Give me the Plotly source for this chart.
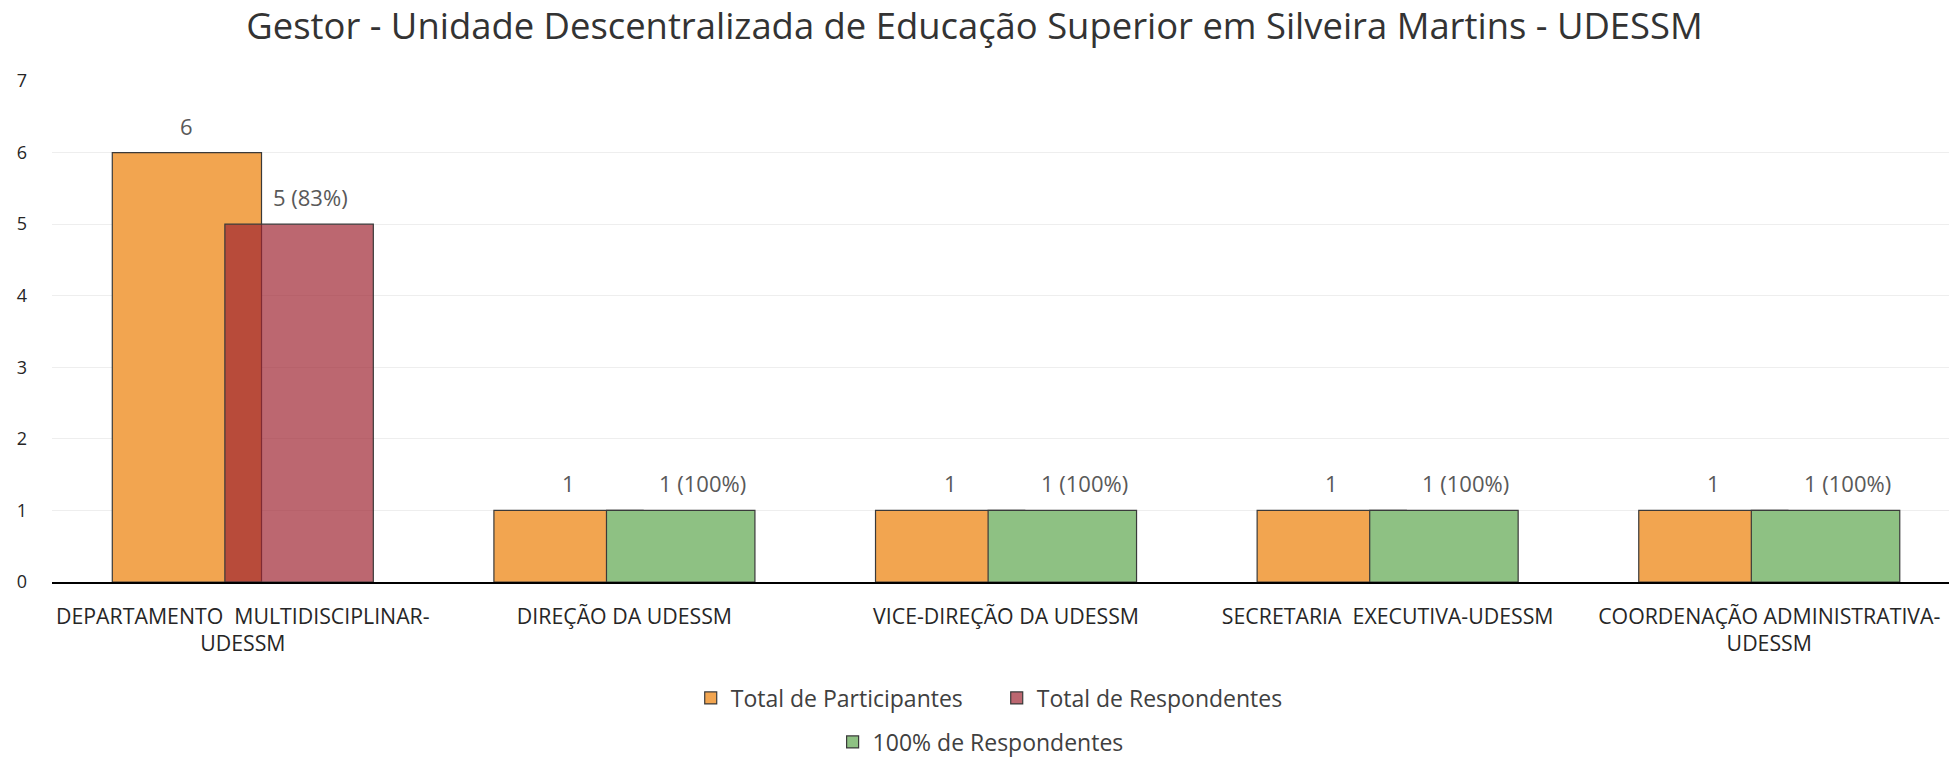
import plotly.graph_objects as go

categories = [
    "DEPARTAMENTO  MULTIDISCIPLINAR-<br>UDESSM",
    "DIREÇÃO DA UDESSM",
    "VICE-DIREÇÃO DA UDESSM",
    "SECRETARIA  EXECUTIVA-UDESSM",
    "COORDENAÇÃO ADMINISTRATIVA-<br>UDESSM",
]
participantes = [6, 1, 1, 1, 1]
respondentes = [5, None, None, None, None]
resp_100 = [None, 1, 1, 1, 1]
labels_part = ["6", "1", "1", "1", "1"]
labels_resp = ["5 (83%)", None, None, None, None]
labels_100 = [None, "1 (100%)", "1 (100%)", "1 (100%)", "1 (100%)"]

FONT = "Open Sans"
outline = dict(color="#3a3a3a", width=1.2)

W, H = 1949, 758

fig = go.Figure()
fig.add_trace(go.Bar(
    x=categories, y=participantes, name="Total de Participantes",
    marker=dict(color="#F2A550", line=outline),
    offset=-0.342, width=0.391, legend="legend",
))
fig.add_trace(go.Bar(
    x=categories, y=respondentes, name="Total de Respondentes",
    marker=dict(color="rgba(158,35,48,0.69)", line=outline),
    offset=-0.047, width=0.389, legend="legend",
))
fig.add_trace(go.Bar(
    x=categories, y=resp_100, name="100% de Respondentes",
    marker=dict(color="#8EC183", line=outline),
    offset=-0.047, width=0.389, legend="legend2",
))

label_font = dict(family=FONT, size=22, color="#595959")
annotations = []
for c, v, t in zip(categories, participantes, labels_part):
    annotations.append(dict(x=c, y=v, text=t, showarrow=False, xshift=-56, yshift=27, font=label_font))
for c, v, t in zip(categories, respondentes, labels_resp):
    if t is not None:
        annotations.append(dict(x=c, y=v, text=t, showarrow=False, xshift=68, yshift=27, font=label_font))
for c, v, t in zip(categories, resp_100, labels_100):
    if t is not None:
        annotations.append(dict(x=c, y=v, text=t, showarrow=False, xshift=78, yshift=27, font=label_font))

legend_font = dict(family=FONT, size=23, color="#404040")
fig.update_layout(
    width=W, height=H,
    barmode="overlay",
    plot_bgcolor="white", paper_bgcolor="white",
    margin=dict(l=52, r=0, t=81, b=176, autoexpand=False),
    title=dict(text="Gestor - Unidade Descentralizada de Educação Superior em Silveira Martins - UDESSM",
               x=0.5, xanchor="center", xref="container", y=1 - 26 / H, yanchor="middle",
               yref="container",
               font=dict(family=FONT, size=36.4, color="#333333")),
    annotations=annotations,
    legend=dict(orientation="h", x=0.3367, xanchor="left", y=-0.2315, yanchor="middle",
                entrywidth=261, entrywidthmode="pixels",
                font=legend_font, itemclick=False),
    legend2=dict(orientation="h", x=0.4115, xanchor="left", y=-0.3194, yanchor="middle",
                 font=legend_font, itemclick=False),
    showlegend=True,
)
fig.update_xaxes(range=[-0.5, 4.471], showline=True, linecolor="black", linewidth=2,
                 showgrid=False, ticks="", ticklabelstandoff=14, automargin=False,
                 tickfont=dict(family=FONT, size=21.3, color="#262626"))
fig.update_yaxes(range=[0, 7], dtick=1, showgrid=True, gridcolor="#EEEEEE", gridwidth=1,
                 zeroline=False, ticks="", ticklabelstandoff=24, automargin=False,
                 tickfont=dict(family=FONT, size=18, color="#262626"))

fig.write_html("out.html", config={"displayModeBar": False},
               post_script="document.body.style.margin='0px';")
